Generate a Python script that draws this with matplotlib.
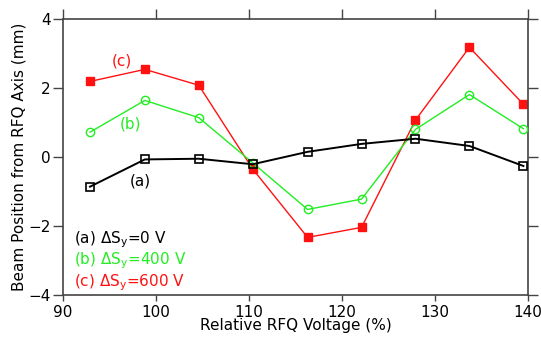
import numpy as np
import matplotlib
matplotlib.use("Agg")
import matplotlib.pyplot as plt

# Données
voltage = [92.9, 98.8, 104.6, 110.4, 116.3, 122.1, 127.9, 133.7, 139.5]
pos_a = [-0.86, -0.07, -0.05, -0.21, 0.15, 0.38, 0.53, 0.32, -0.26]
pos_b = [0.72, 1.64, 1.14, -0.17, -1.52, -1.22, 0.80, 1.81, 0.82]
pos_c = [2.19, 2.54, 2.08, -0.35, -2.33, -2.04, 1.07, 3.18, 1.53]

green = "#22ee22"
red = "#ff1111"
fs = 11

fig = plt.figure(figsize=(5.41, 3.37), dpi=100)
ax = fig.add_axes([0.1165, 0.1246, 0.8595, 0.819])

ax.plot(voltage, pos_a, color="black", lw=1.4, marker="s", ms=5.5,
        mfc="none", mec="black", mew=1.2, zorder=4)
ax.plot(voltage, pos_b, color=green, lw=1.0, marker="o", ms=6,
        mfc="none", mec=green, mew=1.0, zorder=3)
ax.plot(voltage, pos_c, color=red, lw=1.0, marker="s", ms=6,
        mfc=red, mec=red, zorder=2)

ax.set_xlim(90, 140)
ax.set_ylim(-4, 4)
ax.set_xticks([90, 100, 110, 120, 130, 140])
ax.set_yticks([-4, -2, 0, 2, 4])
ax.tick_params(direction="out", length=7, width=1, labelsize=fs,
               top=True, right=True, color="#444444", pad=2)
ax.tick_params(axis="x", which="major", length=4, pad=3)
ax.tick_params(axis="x", which="major", top=True)
ax.xaxis.set_tick_params(which="major", top=True)
for t in ax.xaxis.get_major_ticks():
    t.tick2line.set_markersize(7)
for s in ax.spines.values():
    s.set_color("#444444")
    s.set_linewidth(1.2)

ax.set_xlabel("Relative RFQ Voltage (%)", fontsize=fs, labelpad=-1)
ax.set_ylabel("Beam Position from RFQ Axis (mm)", fontsize=fs, labelpad=1)

# étiquettes sur les courbes
ax.text(98.3, -0.70, "(a)", fontsize=fs, color="black", ha="center", va="center")
ax.text(97.3, 0.96, "(b)", fontsize=fs, color=green, ha="center", va="center")
ax.text(96.3, 2.78, "(c)", fontsize=fs, color=red, ha="center", va="center")

# légende en texte
ax.text(91.2, -2.40, r"(a) $\Delta$S$_\mathregular{y}$=0 V", fontsize=fs, color="black", va="center")
ax.text(91.2, -3.02, r"(b) $\Delta$S$_\mathregular{y}$=400 V", fontsize=fs, color=green, va="center")
ax.text(91.2, -3.63, r"(c) $\Delta$S$_\mathregular{y}$=600 V", fontsize=fs, color=red, va="center")

fig.savefig("out.png", dpi=100)
